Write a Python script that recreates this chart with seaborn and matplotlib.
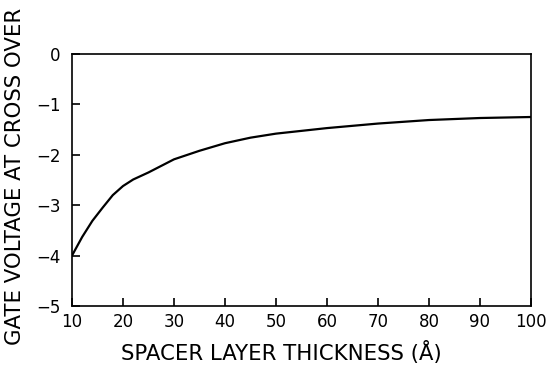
import numpy as np
import pandas as pd
import matplotlib
matplotlib.use("Agg")
import matplotlib.pyplot as plt
import seaborn as sns

# values
thickness = [10, 12, 14, 16, 18, 20, 22, 25, 30, 35, 40, 45, 50, 60, 70, 80, 90, 100]
gate_voltage = [-4.0, -3.63, -3.31, -3.05, -2.80, -2.62, -2.49, -2.35, -2.09, -1.92, -1.77, -1.66, -1.58, -1.47, -1.38, -1.31, -1.27, -1.25]
xticks = [10, 20, 30, 40, 50, 60, 70, 80, 90, 100]
yticks = [0, -1, -2, -3, -4, -5]

df = pd.DataFrame({"thickness": thickness, "vg": gate_voltage})

sns.set_style("ticks")
plt.rcParams['font.family'] = ['DejaVu Sans']

fig = plt.figure(figsize=(5.47, 3.74), dpi=100)
ax = fig.add_axes([0.1316, 0.1818, 0.8391, 0.6738])

sns.lineplot(data=df, x="thickness", y="vg", ax=ax, color="black", linewidth=1.6)

ax.set_xlim(10, 100)
ax.set_ylim(-5, 0)
ax.set_xticks(xticks)
ax.set_yticks(yticks)
ax.set_yticklabels([str(t).replace("-", "\u2212") for t in yticks])
ax.tick_params(direction="in", length=6, width=1.2, labelsize=12, colors="black", labelcolor="black")
ax.tick_params(axis="y", pad=8)
ax.tick_params(axis="x", pad=5)
for s in ax.spines.values():
    s.set_linewidth(1.2)
    s.set_color("black")

ax.set_xlabel("SPACER LAYER THICKNESS (Å)", fontsize=15.3, labelpad=7, color="black", x=0.457)
ax.set_ylabel("GATE VOLTAGE AT CROSS OVER", fontsize=15.3, labelpad=8, color="black", y=0.516)

fig.savefig("out.png", dpi=100)
